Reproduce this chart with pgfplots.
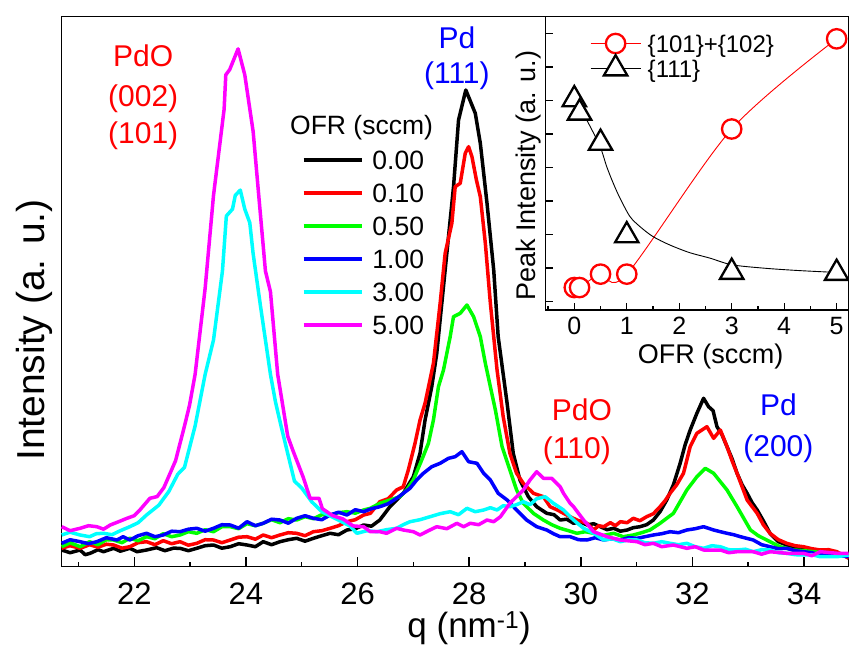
\documentclass[border=0pt]{standalone}
\usepackage{fontspec}
\setmainfont{Liberation Sans}
\usepackage{pgfplots}
\pgfplotsset{compat=1.18}
\definecolor{cR}{RGB}{255,0,0}
\definecolor{cG}{RGB}{0,255,0}
\definecolor{cB}{RGB}{0,0,255}
\definecolor{cC}{RGB}{0,255,255}
\definecolor{cM}{RGB}{255,0,255}
\begin{document}
\begin{tikzpicture}
\useasboundingbox (-61.7pt,-79.3pt) rectangle (787.3pt,566.7pt);
\begin{axis}[
  at={(0pt,0pt)}, anchor=south west, scale only axis,
  width=787pt, height=550pt,
  xmin=20.7, xmax=34.8, ymin=0, ymax=550,
  clip=false,
  axis line style={line width=1.5pt},
  xtick={22,24,...,34}, minor xtick={21,23,...,33},
  ytick=\empty,
  tick align=inside, xtick pos=left,
  major tick length=10pt, minor tick length=5pt,
  every tick/.style={line width=1.5pt, black},
  /pgf/number format/assume math mode=true,
  xticklabel style={font=\fontsize{31pt}{37pt}\selectfont, anchor=base, yshift=-37.3pt},
  every axis plot/.append style={line width=3.5pt, line join=round, no markers},
  legend style={at={(0.305,0.7695)}, anchor=north west, draw=none, fill=none,
    font=\fontsize{26.5pt}{30pt}\selectfont, inner sep=0pt, row sep=0pt, column sep=9pt,
    nodes={inner sep=0pt, text height=26pt, text depth=7pt}},
  legend cell align=left,
  legend image code/.code={\draw[#1] (0pt,0pt) -- (58pt,0pt);},
]
% 0.00 sccm
\addplot[black] coordinates {
(20.70,16.7)(20.85,14)(21.03,16.7)(21.12,12)(21.21,13.4)(21.35,17)(21.45,15)(21.63,18.4)(21.75,15.5)(21.92,18.4)
(22.05,15)(22.22,16.7)(22.40,19)(22.55,16)(22.70,18.5)(22.82,18.4)(22.97,16)(23.12,18.4)(23.27,21)(23.42,21.7)
(23.57,18.5)(23.72,20)(23.87,23)(24.02,21.7)(24.17,20)(24.31,25)(24.46,22)(24.61,25)(24.76,27)(24.91,28.4)
(25.06,25.5)(25.21,28.4)(25.36,31)(25.51,33.4)(25.66,32)(25.81,36.7)(25.96,38)(26.11,41.7)(26.25,40.5)(26.40,46.7)
(26.58,60)(26.70,66.7)(26.82,73.4)(27.00,90)(27.12,113.4)(27.21,146.7)(27.33,180)(27.42,213.4)(27.54,280)(27.63,330)
(27.72,380)(27.81,446.7)(27.94,476.7)(28.11,453.4)(28.20,423.4)(28.32,363.4)(28.44,296.7)(28.52,230)(28.68,163.4)(28.79,113.4)
(28.91,86.7)(29.06,70)(29.21,60)(29.39,53.4)(29.52,52)(29.63,46.7)(29.75,47.5)(29.87,43.4)(29.99,45)(30.11,41.7)
(30.23,43)(30.35,40)(30.47,37)(30.59,38.4)(30.71,35.5)(30.83,36.7)(30.94,39)(31.06,40)(31.18,42)(31.30,46.7)
(31.42,55)(31.54,66.7)(31.66,82)(31.78,103.4)(31.87,122)(31.96,136.7)(32.08,153.4)(32.20,168.4)(32.29,160)(32.37,156)
(32.44,140)(32.53,132)(32.62,120)(32.71,108)(32.80,93.4)(32.89,82)(32.98,73.4)(33.07,64)(33.16,56.7)(33.27,46)
(33.39,33.4)(33.54,25)(33.69,21.7)(33.84,19)(33.99,18.4)(34.14,15.5)(34.29,15)(34.44,13)(34.59,13.4)(34.80,10)
};
\addlegendentry{0.00}
% 0.10 sccm
\addplot[cR] coordinates {
(20.70,18.4)(20.85,21)(21.03,18.4)(21.20,22)(21.35,19.5)(21.50,22.5)(21.63,21.7)(21.78,18.5)(21.92,20)(22.07,24)
(22.22,25)(22.37,22)(22.52,26)(22.67,23)(22.82,25)(22.97,21.5)(23.12,23.4)(23.27,27)(23.42,26.7)(23.57,24)
(23.72,26.7)(23.87,29.5)(24.02,30)(24.17,27.5)(24.31,31.7)(24.46,29)(24.61,31.7)(24.76,34)(24.91,33.4)(25.06,31)
(25.21,35)(25.36,36)(25.51,38.4)(25.66,41)(25.81,45)(25.96,47)(26.11,51.7)(26.23,53.4)(26.40,65)(26.55,68)
(26.70,76.7)(26.82,80)(26.91,96.7)(27.03,123.4)(27.12,146.7)(27.21,163.4)(27.36,203.4)(27.48,263.4)(27.57,313.4)(27.69,343.4)
(27.75,380)(27.84,383.4)(27.93,413.4)(27.99,420)(28.05,410)(28.13,386.7)(28.20,370)(28.29,323.4)(28.38,263.4)(28.50,196.7)
(28.61,150)(28.73,113.4)(28.85,93.4)(28.97,83.4)(29.15,73.4)(29.33,70)(29.45,60)(29.57,57)(29.69,53.4)(29.81,50)
(29.93,46.7)(30.02,45)(30.11,43.4)(30.23,36.7)(30.32,41)(30.41,40)(30.53,44)(30.62,41)(30.71,45)(30.83,44)
(30.94,48.4)(31.06,46)(31.18,50)(31.30,53)(31.42,60)(31.51,66)(31.60,73.4)(31.72,82)(31.84,93.4)(31.96,120)
(32.08,133.4)(32.17,136.7)(32.26,140)(32.38,128.4)(32.50,136.7)(32.62,120)(32.71,106)(32.80,93.4)(32.89,80)(32.98,66.7)
(33.07,60)(33.16,53.4)(33.27,42)(33.39,33.4)(33.54,27)(33.69,23.4)(33.84,21)(33.99,20)(34.14,18)(34.29,16.7)
(34.44,17)(34.59,15)(34.80,8.4)
};
\addlegendentry{0.10}
% 0.50 sccm
\addplot[cG] coordinates {
(20.70,20)(20.85,24)(21.03,20)(21.20,25)(21.35,22)(21.50,27)(21.63,26.7)(21.78,24)(21.92,28.5)(22.07,26)
(22.22,30)(22.37,28)(22.52,33)(22.67,30)(22.82,31.7)(22.97,35)(23.12,33.4)(23.27,37)(23.42,35)(23.57,40)
(23.72,40)(23.87,38)(24.02,43)(24.17,41)(24.31,43.4)(24.46,47)(24.61,44)(24.76,48)(24.91,46.7)(25.06,50)
(25.21,48)(25.36,52)(25.51,51.7)(25.66,54)(25.81,55)(25.96,53.5)(26.11,56.7)(26.23,58.4)(26.40,63.4)(26.58,66.7)
(26.76,70)(26.88,76.7)(27.00,86.7)(27.15,106.7)(27.27,123.4)(27.36,146.7)(27.45,180)(27.54,196.7)(27.66,230)(27.72,250)
(27.84,253.4)(27.96,261.7)(28.08,250)(28.20,230)(28.29,203.4)(28.38,180)(28.47,156.7)(28.59,120)(28.73,96.7)(28.85,76.7)
(28.97,63.4)(29.15,53.4)(29.33,46.7)(29.48,42)(29.63,38.4)(29.78,36)(29.93,33.4)(30.08,35)(30.23,33.4)(30.38,31)
(30.59,33.4)(30.76,30)(30.94,31.7)(31.09,34)(31.24,36.7)(31.42,43.4)(31.66,53.4)(31.90,76.7)(32.08,90)(32.23,98.4)
(32.38,93.4)(32.62,76.7)(32.80,60)(33.04,36.7)(33.18,31)(33.33,26.7)(33.57,20)(33.81,16.7)(34.00,16)(34.17,15)
(34.47,13.4)(34.80,11.7)
};
\addlegendentry{0.50}
% 1.00 sccm
\addplot[cB] coordinates {
(20.70,23.4)(20.85,27)(21.03,25)(21.18,23)(21.33,25)(21.50,29)(21.69,26.7)(21.80,30)(21.92,26.7)(22.07,31)
(22.22,33.4)(22.37,30)(22.52,31.7)(22.67,35.5)(22.82,35)(22.97,37.5)(23.12,38.4)(23.27,35.5)(23.42,38.4)(23.57,42)
(23.72,41.7)(23.87,38.5)(24.02,45)(24.17,41)(24.31,43.4)(24.46,47.5)(24.61,46.7)(24.76,43.5)(24.91,48.4)(25.06,51)
(25.21,48.4)(25.36,47)(25.51,51.7)(25.66,54.5)(25.81,51.7)(25.96,57)(26.11,55)(26.25,58)(26.40,60)(26.55,63)
(26.70,68.4)(26.82,73.4)(26.94,78.4)(27.06,86.7)(27.18,93.4)(27.33,100)(27.48,103.4)(27.63,108.4)(27.75,110)(27.87,115)
(27.99,105)(28.14,103.4)(28.26,93.4)(28.38,86.7)(28.52,73.4)(28.68,66.7)(28.85,56.7)(29.03,46.7)(29.21,40)(29.39,36.7)
(29.51,33)(29.63,30)(29.81,30)(29.96,27)(30.11,26.7)(30.26,29)(30.41,26.7)(30.56,28)(30.71,26.7)(30.86,29)
(31.01,28.4)(31.15,30)(31.30,31.7)(31.45,33)(31.60,35)(31.75,34)(31.90,36.7)(32.05,38)(32.20,40)(32.38,36.7)
(32.50,35)(32.62,33.4)(32.74,32)(32.86,30)(33.09,26.7)(33.24,22)(33.39,20)(33.54,18)(33.69,18.4)(33.84,16)
(33.99,15)(34.14,14)(34.29,11.7)(34.50,12)(34.80,10)
};
\addlegendentry{1.00}
% 3.00 sccm
\addplot[cC] coordinates {
(20.70,31.7)(20.85,34.5)(21.03,31.7)(21.20,30)(21.32,33)(21.45,33.4)(21.60,32)(21.75,36)(21.92,40)(22.07,44)
(22.22,51.7)(22.44,61.5)(22.62,75.3)(22.78,92.5)(22.90,99.4)(23.09,140.7)(23.27,192.3)(23.42,226.8)(23.58,295.7)(23.65,350.7)
(23.76,357.6)(23.81,371.4)(23.90,376.6)(23.98,357.6)(24.07,343.9)(24.13,312.9)(24.26,261.2)(24.44,192.3)(24.53,164.8)(24.63,140.7)
(24.75,113.1)(24.87,85.6)(25.00,78.7)(25.18,64.9)(25.37,54.6)(25.62,47.7)(25.86,40.8)(25.99,33.4)(26.17,36)(26.35,35)
(26.52,37)(26.70,38.4)(26.82,42)(26.94,45)(27.12,47)(27.30,50)(27.48,53)(27.66,55)(27.81,52)(27.96,58.4)
(28.11,55)(28.26,56.7)(28.38,59)(28.50,56.7)(28.61,61)(28.73,60)(28.85,62)(28.97,65)(29.09,62)(29.21,68)
(29.36,70)(29.51,63.4)(29.69,56.7)(29.87,46.7)(30.05,38.4)(30.23,33.4)(30.41,26.7)(30.56,28)(30.71,25)(30.86,27)
(31.01,26.7)(31.15,24)(31.30,23.4)(31.45,25)(31.60,23.4)(31.75,22)(31.90,23.4)(32.05,20)(32.20,18.4)(32.35,21)
(32.50,20)(32.65,17)(32.80,16.7)(32.95,17.5)(33.09,15)(33.24,17)(33.39,16.7)(33.54,14)(33.69,13.4)(33.84,12)
(33.99,11.7)(34.14,12)(34.29,10)(34.59,10)(34.80,11.7)
};
\addlegendentry{3.00}
% 5.00 sccm
\addplot[cM] coordinates {
(20.70,40)(20.85,36)(21.03,38.4)(21.18,41)(21.33,40)(21.45,37.5)(21.57,41.7)(21.72,45)(21.87,48.4)(22.00,51)
(22.10,56.7)(22.28,68.4)(22.41,70.1)(22.53,79)(22.74,106)(22.90,140.7)(22.99,161.4)(23.09,192.3)(23.27,278.4)(23.42,371.4)
(23.61,457.5)(23.64,491.9)(23.71,497.1)(23.86,517.8)(23.98,491.9)(24.13,435.1)(24.23,371.4)(24.35,295.7)(24.44,275)(24.57,192.3)
(24.75,130.4)(24.84,116.6)(25.03,89)(25.15,68.4)(25.31,68.4)(25.37,58)(25.55,51.2)(25.74,47.7)(25.92,40.8)(26.11,40)
(26.23,35)(26.40,35)(26.52,33.4)(26.70,38.4)(26.82,36.7)(27.00,35)(27.12,31.7)(27.27,36)(27.42,40)(27.60,38)
(27.78,43.4)(27.90,40)(28.02,43.4)(28.17,42)(28.32,46.7)(28.44,45)(28.56,50)(28.73,63.4)(28.97,76.7)(29.09,86.7)
(29.21,95)(29.33,88.4)(29.48,88.4)(29.63,80)(29.69,73.4)(29.81,63.4)(29.87,60)(30.05,46.7)(30.23,35)(30.47,30)
(30.71,26.7)(31.01,25)(31.15,22)(31.30,23.4)(31.45,20)(31.66,21.7)(31.90,18.4)(32.05,20)(32.20,16.7)(32.50,16.7)
(32.65,14)(32.80,15)(33.09,15)(33.24,12.5)(33.39,15)(33.69,13.4)(33.99,13.4)(34.14,11)(34.29,15)(34.59,13.4)
(34.80,13.4)
};
\addlegendentry{5.00}
% labels
\node[anchor=base west, font=\fontsize{26.5pt}{30pt}\selectfont] at (axis cs:24.73,431.7) {OFR (sccm)};
\node[anchor=base, text=cR, font=\fontsize{30pt}{36pt}\selectfont] at (axis cs:22.16,500) {PdO};
\node[anchor=base, text=cR, font=\fontsize{30pt}{36pt}\selectfont] at (axis cs:22.16,460) {(002)};
\node[anchor=base, text=cR, font=\fontsize{30pt}{36pt}\selectfont] at (axis cs:22.16,423.4) {(101)};
\node[anchor=base, text=cB, font=\fontsize{30pt}{36pt}\selectfont] at (axis cs:27.78,518.4) {Pd};
\node[anchor=base, text=cB, font=\fontsize{30pt}{36pt}\selectfont] at (axis cs:27.78,483.4) {(111)};
\node[anchor=base, text=cR, font=\fontsize{30pt}{36pt}\selectfont] at (axis cs:30.02,146.7) {PdO};
\node[anchor=base, text=cR, font=\fontsize{30pt}{36pt}\selectfont] at (axis cs:29.93,108.4) {(110)};
\node[anchor=base, text=cB, font=\fontsize{30pt}{36pt}\selectfont] at (axis cs:33.54,151.7) {Pd};
\node[anchor=base, text=cB, font=\fontsize{30pt}{36pt}\selectfont] at (axis cs:33.54,110) {(200)};
\node[anchor=base, inner sep=0pt, font=\fontsize{35pt}{42pt}\selectfont] at (axis cs:28.0,-70.8) {q (nm\textsuperscript{-1})};
\node[anchor=base, rotate=90, font=\fontsize{39pt}{46pt}\selectfont] at (axis cs:20.40,236.7) {Intensity (a. u.)};
\end{axis}
% inset
\begin{axis}[
  at={(484pt,256.7pt)}, anchor=south west, scale only axis,
  width=303pt, height=293.3pt,
  xmin=-0.545, xmax=5.23, ymin=-0.25, ymax=8.5,
  clip=false,
  axis background/.style={fill=white},
  axis line style={line width=1.5pt},
  xtick={0,...,5}, minor xtick={-0.5,0.5,...,4.5},
  ytick={0,...,8}, yticklabels={},
  tick align=inside, xtick pos=left, ytick pos=left,
  major tick length=7pt, minor tick length=4pt,
  every tick/.style={line width=1.2pt, black},
  /pgf/number format/assume math mode=true,
  xticklabel style={font=\fontsize{25pt}{30pt}\selectfont, anchor=base, yshift=-24pt},
  legend style={at={(0.146,0.949)}, anchor=north west, draw=none, fill=none,
    font=\fontsize{24pt}{28pt}\selectfont, inner sep=0pt, row sep=0pt, column sep=6.7pt,
    nodes={inner sep=0pt, text height=20.2pt, text depth=3.1pt}},
  legend cell align=left,
  legend image code/.code={\draw[mark repeat=2,mark phase=2,#1] plot coordinates {(0pt,0pt) (25pt,0pt) (50pt,0pt)};},
]
\addplot[cR, line width=0.9pt, smooth, mark=*, mark size=9.7pt,
  mark options={solid, fill=white, draw=cR, line width=2.3pt}]
  coordinates {(0,0.42)(0.1,0.42)(0.5,0.82)(1,0.82)(3,5.15)(5,7.84)};
\addlegendentry{\{101\}+\{102\}}
\addplot[black, line width=0.9pt, smooth, forget plot]
  coordinates {(0,6.0)(0.11,5.72)(0.236,5.42)(0.49,4.63)(0.617,4.03)(0.743,3.53)(0.87,3.09)(1.06,2.54)(1.25,2.24)(1.50,1.94)(1.82,1.69)(2.20,1.46)(2.58,1.30)(3.00,1.10)(3.60,1.00)(4.24,0.93)(5.00,0.87)};
\addplot[black, line width=0.9pt, only marks, mark=triangle*, mark size=13.5pt, forget plot,
  mark options={solid, fill=white, draw=black, line width=2.3pt}]
  coordinates {(0,6.03)(0.1,5.63)(0.5,4.73)(1,1.97)(3,0.88)(5,0.85)};
\addlegendimage{black, line width=0.9pt, mark=triangle*, mark size=13.5pt,
  mark options={solid, fill=white, draw=black, line width=2.3pt}}
\addlegendentry{\{111\}}
\node[anchor=base, font=\fontsize{27pt}{32pt}\selectfont] at (axis cs:2.60,-1.86) {OFR (sccm)};
\node[anchor=base, rotate=90, font=\fontsize{27pt}{32pt}\selectfont] at (axis cs:-0.749,3.75) {Peak Intensity (a. u.)};
\end{axis}
\end{tikzpicture}
\end{document}
